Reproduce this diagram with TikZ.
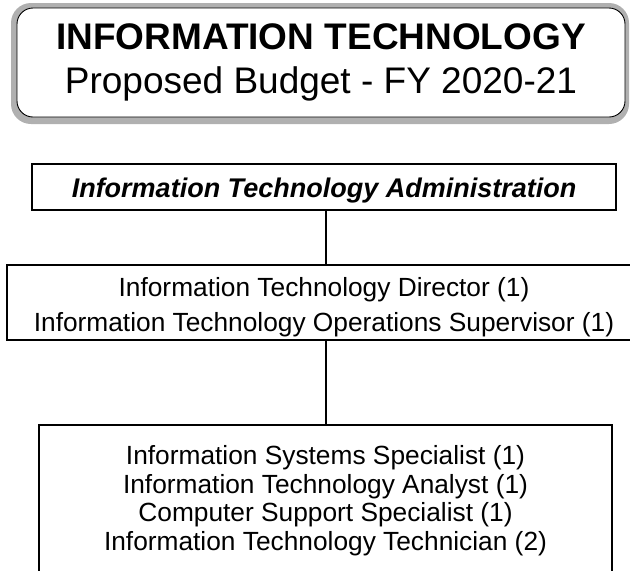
\documentclass[tikz,border=0pt]{standalone}
\usepackage{fontspec}
\setmainfont{Liberation Sans}
\begin{document}
\begin{tikzpicture}[x=1pt,y=-1pt,
  box/.style={draw, line width=1.1pt, inner sep=0pt, align=center},
  conn/.style={line width=1.1pt}]
\useasboundingbox (0,0) rectangle (630,571);
% bevel / shadow of the title box
\fill[gray!62, rounded corners=20pt] (11,3) rectangle (629,124);
\node[draw, fill=white, line width=0.9pt, rounded corners=16pt,
      minimum width=608pt, minimum height=109pt, inner sep=0pt, align=center,
      font=\fontsize{37}{44}\selectfont] (title) at (321,62.5)
      {{\bfseries INFORMATION TECHNOLOGY}\\Proposed Budget - FY 2020-21};
\node[box, minimum width=584pt, minimum height=46pt, text height=22pt, text depth=2pt,
      font=\fontsize{27}{32}\selectfont\bfseries\itshape] (admin) at (324,187)
      {Information Technology Administration};
\node[box, minimum width=634pt, minimum height=75pt,
      font=\fontsize{26.3}{35}\selectfont] (dir) at (324,302.5)
      {\rule{0pt}{29.2pt}Information Technology Director (1)\\
       Information Technology Operations Supervisor (1)};
\node[box, minimum width=573pt, minimum height=151.8pt,
      font=\fontsize{26.3}{28.5}\selectfont] (staff) at (325.5,500.9)
      {Information Systems Specialist (1)\\
       Information Technology Analyst (1)\\
       Computer Support Specialist (1)\\
       Information Technology Technician (2)};
\coordinate (spine) at (326,0);
\draw[conn] (admin.south -| spine) -- (dir.north -| spine);
\draw[conn] (dir.south -| spine) -- (staff.north -| spine);
\end{tikzpicture}
\end{document}
